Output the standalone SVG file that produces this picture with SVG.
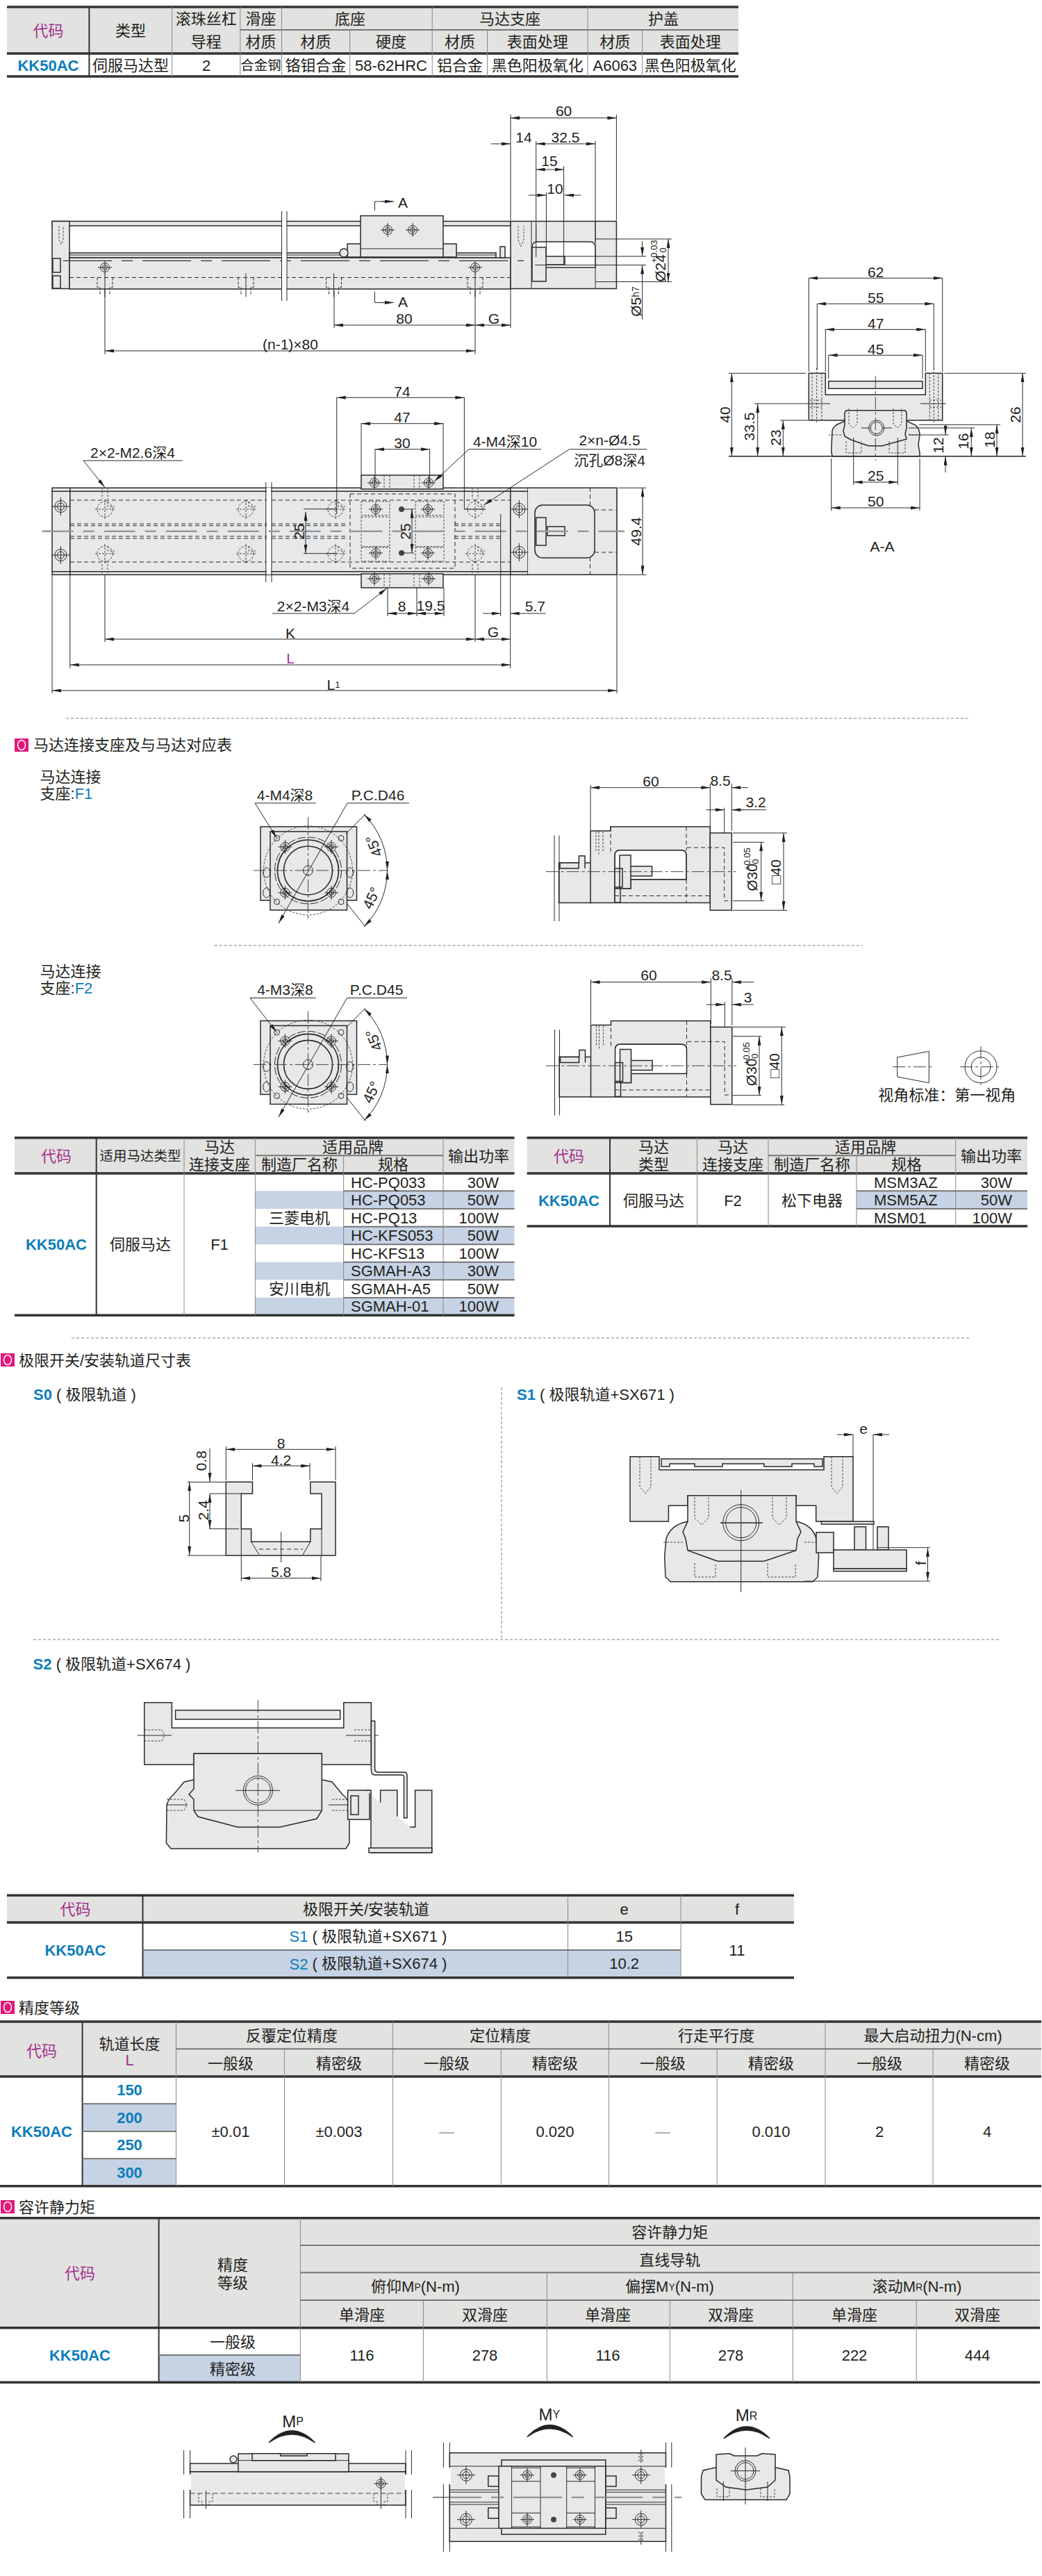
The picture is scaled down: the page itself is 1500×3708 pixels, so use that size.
<svg xmlns="http://www.w3.org/2000/svg" xmlns:xlink="http://www.w3.org/1999/xlink" width="1500" height="3708" viewBox="0 0 1500 3708">
<style>
text{font-family:"Liberation Sans","Noto Sans CJK SC",sans-serif;font-size:21px;fill:#231f20;text-anchor:middle;dominant-baseline:central}
.c{font-size:22px}.s{font-size:19.5px}.lf{text-anchor:start}.rt{text-anchor:end}
.k{font-weight:bold;fill:#0c7dba;font-size:22px}.b{fill:#0c7dba}.p{fill:#a3308f;font-size:22px}
.st{font-size:13px}
.l,.d,.e,.m,.n,.o,.h{fill:none;stroke:#2a2a2a;stroke-width:1}
.m{marker-start:url(#a);marker-end:url(#a)}
.e{marker-end:url(#a)}
.o{stroke-width:1.6}
.n{stroke-dasharray:6 4}
.h{stroke-dasharray:3 2;stroke:#444}
.cl{fill:none;stroke:#444;stroke-width:1;stroke-dasharray:18 4 4 4}
.gl{fill:none;stroke:#999;stroke-width:2.5;stroke-dasharray:45 14 16 14}
.f{fill:#e7e8ea;stroke:#2a2a2a;stroke-width:1.5}
.w{fill:#fff;stroke:#2a2a2a;stroke-width:1.5}
.hb{fill:#e2e2e0}.bb{fill:#c6d3e5}
.tk{stroke:#333;stroke-width:3.5;fill:none}
.tn{stroke:#888;stroke-width:1;fill:none}
.md{stroke:#777;stroke-width:2;fill:none}
.sp{stroke:#333;stroke-width:2;fill:none}
.dl{stroke:#aaa;stroke-width:1.5;stroke-dasharray:4 3;fill:none}
</style>
<defs>
<marker id="a" markerUnits="userSpaceOnUse" orient="auto-start-reverse" refX="13" refY="2.5" markerWidth="13" markerHeight="5"><path d="M0 0L13 2.5L0 5z" fill="#222"/></marker>
<g id="ic"><rect width="20" height="19" fill="#e2187a"/><ellipse cx="10" cy="9.5" rx="5.5" ry="7" fill="none" stroke="#fff" stroke-width="1.5"/></g>
<g id="bh"><circle r="8.5" class="l"/><circle r="5" class="l"/><path class="l" d="M-13 0H13M0-13V13"/></g>
<g id="sh"><circle r="6.5" class="l"/><circle r="3.5" class="l"/><path class="l" d="M-10 0H10M0-10V10"/></g>
<g id="dh"><circle r="11" class="h"/><path class="h" d="M-14 0H14M0-14V14M4-11V-4H14"/></g>
<g id="ts"><path class="l" stroke-dasharray="4 2" d="M-11 0V14H-7V24M11 0V14H7V24"/><path class="l" d="M0-6V28"/></g>
<g id="fv">
<rect class="f" x="375" y="1190" width="138.500" height="106"/>
<rect class="f" x="389" y="1197" width="110.500" height="113"/>
<circle cx="443.500" cy="1253" r="64" class="h"/>
<circle cx="443.500" cy="1253" r="48" class="l" stroke-dasharray="12 3"/>
<circle cx="443.500" cy="1253" r="44" class="o"/>
<circle cx="443.500" cy="1253" r="35" class="o"/>
<circle cx="443.500" cy="1253" r="7" class="l"/>
<use href="#sh" x="410.400" y="1219"/><use href="#sh" x="477" y="1219"/><use href="#sh" x="410.400" y="1285"/><use href="#sh" x="477" y="1285"/>
<g class="l"><circle cx="398.500" cy="1206.500" r="4"/><circle cx="491" cy="1206.500" r="4"/><circle cx="398.500" cy="1298" r="4"/><circle cx="491" cy="1298" r="4"/><ellipse cx="383.700" cy="1256" rx="5" ry="7"/><ellipse cx="503.700" cy="1256" rx="5" ry="7"/><ellipse cx="383.700" cy="1285" rx="5" ry="7"/><ellipse cx="503.700" cy="1285" rx="5" ry="7"/></g>
<path class="cl" d="M365 1253H557.700M443.500 1176V1325"/>
<path class="m" d="M524.100 1172.400A114 114 0 0 1 557.500 1253"/>
<path class="m" d="M557.500 1253A114 114 0 0 1 524.100 1333.600"/>
<path class="l" d="M526 1172L498 1200M526 1334L499 1300"/>
</g>
<g id="fsv">
<rect class="f" x="804.600" y="1242" width="46" height="57.500"/>
<path class="f" d="M806 1250V1242H833V1250H806M833.400 1242V1232H842V1250"/>
<path class="f" d="M850 1299.500V1196H879V1190H1022.300V1299.500Z"/>
<path class="w" d="M885 1299.500V1231Q885 1223.700 893 1223.700H980Q988 1223.700 988 1231V1266H908V1279H885Z" stroke="none"/>
<path class="l" d="M885 1299.500V1231Q885 1223.700 893 1223.700H980Q988 1223.700 988 1231V1266H905"/>
<path class="f" d="M892 1231H908V1279H892ZM885 1250H896V1277H885ZM908 1247H938.600V1261H908Z"/>
<rect class="f" x="885" y="1279" width="8" height="20"/>
<rect class="f" x="1022.300" y="1199" width="31" height="111.300"/>
<path class="n" d="M879 1190V1230M988 1190V1225M989 1220H1042.700V1296.700H1053M885 1289.500H1022.300M988 1266V1299"/>
<path class="h" d="M858 1197V1227M862 1197V1230M868 1197V1227"/>
<path class="cl" d="M785.700 1254.700H1059.500"/>
<path class="l" d="M798 1202.600V1326M805 1202.600V1326"/>
</g>
</defs>

<g id="table-spec">
<rect class="hb" x="10" y="10" width="1053" height="67"/>
<path class="tk" d="M10 10H1063M10 77H1063M10 110H1063"/>
<path class="sp" d="M128.400 10V110"/>
<path class="tn" d="M247.600 10V110M345.800 10V110M405.500 10V110M503.700 43V110M622.200 10V110M701.500 43V110M846 10V110M924.600 43V110"/>
<path class="md" d="M345.800 43H1063" stroke-width="1.200"/>
<text class="p" x="69.500" y="44">代码</text><text class="c" x="188" y="44">类型</text><text class="c" x="296.700" y="27">滚珠丝杠</text><text class="c" x="296.700" y="60">导程</text>
<text class="c" x="375.600" y="27">滑座</text><text class="c" x="375.600" y="60">材质</text><text class="c" x="504" y="27">底座</text><text class="c" x="454.600" y="60">材质</text><text class="c" x="563" y="60">硬度</text>
<text class="c" x="734" y="27">马达支座</text><text class="c" x="661.900" y="60">材质</text><text class="c" x="773.800" y="60">表面处理</text>
<text class="c" x="955" y="27">护盖</text><text class="c" x="885.300" y="60">材质</text><text class="c" x="993.800" y="60">表面处理</text>
<text class="k" x="69.500" y="94">KK50AC</text><text class="c" x="188" y="94">伺服马达型</text><text class="c" x="297" y="94">2</text><text class="s" x="375.600" y="94">合金钢</text><text class="c" x="454.600" y="94">铬钼合金</text><text class="c" x="563" y="94">58-62HRC</text><text class="c" x="661.900" y="94">铝合金</text><text class="c" x="773.800" y="94">黑色阳极氧化</text><text class="c" x="885.300" y="94">A6063</text><text class="c" x="993.800" y="94">黑色阳极氧化</text>
</g>

<g id="side-view">
<rect class="f" x="75" y="318.500" width="660" height="6.500"/>
<rect class="f" x="75" y="318.500" width="25" height="97"/>
<rect class="f" x="100" y="364" width="614" height="7"/><path class="l" d="M100 367H714"/>
<rect class="f" x="100" y="371" width="635" height="45"/>
<path class="f" d="M735 415.600V318.500H887.400V415.600Z"/>
<path class="l" d="M765 318.500V415.600M857 318.500V415.600M771.700 324V348"/>
<path class="w" d="M766 385V356Q766 348 774 348H849Q857 348 857 356V385Z"/>
<path class="f" d="M766 356H786V405H766ZM786 369H813V381H786Z"/>
<rect class="f" x="76" y="372" width="11" height="20"/><rect class="f" x="76" y="397" width="11" height="18"/>
<rect class="f" x="500" y="351" width="157" height="19"/><circle class="f" cx="495" cy="364" r="6"/><rect class="f" x="720" y="355" width="7" height="16"/>
<rect class="f" x="519" y="310.600" width="119" height="59.400"/><path class="l" d="M519 358H638"/>
<use href="#sh" x="558" y="331"/><use href="#sh" x="594" y="331"/>
<use href="#sh" x="151" y="385"/><use href="#sh" x="684" y="385"/>
<use href="#ts" x="151" y="399.500"/><use href="#ts" x="354" y="399.500"/><use href="#ts" x="480.500" y="399.500"/><use href="#ts" x="684" y="399.500"/>
<path class="h" d="M85 325V345L88 352L91 345V325M746 325V345L750 355L754 345V325"/>
<path d="M91 375.300H754" fill="none" stroke="#333" stroke-width="1.300" stroke-dasharray="70 14 16 14"/>
<path class="n" d="M100 399.500H735"/>
<rect x="405.500" y="316" width="7.500" height="102" fill="#fff"/>
<path class="l" d="M405.500 304V433M413 304V433"/>
<path class="l" d="M539.500 303V290H556M539.500 420V435.600H556"/><path class="e" d="M550 290H567"/><path class="e" d="M550 435.600H567"/>
<text x="580" y="291">A</text><text x="580" y="434">A</text>
<path class="l" d="M735 165V317M887.400 165V317M771.700 203V370M857 203V348M811.600 239V381.500M786.400 277V370M857 344H967M857 405.600H967M813 369H930M770 381.500H930M481 418V472M684 418V510M735 416V472M151 416V510"/>
<path class="m" d="M735 169.800H887.400"/>
<path class="e" d="M707 207H735"/><path class="m" d="M771.700 207H857"/>
<path class="m" d="M771.700 244H811.600"/>
<path class="e" d="M761 281H786.400"/><path class="e" d="M836 281H813"/>
<path class="m" d="M962 344V405.600"/>
<path class="e" d="M924.600 347V369"/><path class="e" d="M924.600 460V381.500"/>
<path class="m" d="M481 468H684"/><path class="m" d="M684 468H735"/><path class="m" d="M151 505H684"/>
<text x="811.600" y="159">60</text><text x="754" y="197">14</text><text x="814" y="197">32.5</text><text x="791" y="231">15</text><text x="799" y="271">10</text>
<text x="582" y="458">80</text><text x="711" y="458">G</text><text x="418" y="495">(n-1)×80</text>
<text transform="rotate(-90 915 434)" x="915" y="434">Ø5<tspan font-size="14">h7</tspan></text>
<text transform="rotate(-90 950 386)" x="950" y="386">Ø24</text>
<text class="st" transform="rotate(-90 941 362)" x="941" y="362">+0.03</text><text class="st" transform="rotate(-90 954 360)" x="954" y="360">0</text>
</g>

<g id="plan-view">
<rect class="f" x="75" y="702.300" width="26" height="125"/>
<rect class="f" x="100.800" y="702.300" width="634" height="125"/>
<rect class="f" x="734.800" y="702.300" width="25.200" height="125"/>
<rect x="760" y="702.300" width="128" height="125" fill="#e7e8ea"/>
<path class="o" d="M760 702.300H888V827.300H760M75 707.300H760M75 822.700H760"/>
<rect class="f" x="520" y="684" width="118" height="20"/><rect class="f" x="520" y="826" width="118" height="20"/>
<path class="n" d="M504 711H655V818H504ZM101 720H735M101 809H735M101 754H500.600M101 756.700H500.600M101 772H500.600M101 775H500.600M654 754H721M654 756.700H721M654 772H721M654 775H721M849.500 702V827M856 734H888M856 795H888"/>
<path class="h" d="M520 721.700H561V741.700H520ZM520 744H561V786.700H520ZM520 788H561V808H520ZM598 721.700H639V741.700H598ZM598 744H639V786.700H598ZM598 788H639V808H598Z"/>
<path class="h" d="M147 702V718M155 702V718M680 702V718M688 702V718M147 812V827M155 812V827M680 812V827M688 812V827M553 684V704M561 684V704M596 684V704M604 684V704M553 826V846M561 826V846M596 826V846M604 826V846"/>
<use href="#dh" x="151" y="733"/><use href="#dh" x="354" y="733"/><use href="#dh" x="483" y="733"/><use href="#dh" x="684" y="733"/>
<use href="#dh" x="151" y="797"/><use href="#dh" x="354" y="797"/><use href="#dh" x="483" y="797"/><use href="#dh" x="684" y="797"/>
<use href="#bh" x="87.400" y="729"/><use href="#bh" x="87.400" y="799"/><use href="#bh" x="747.400" y="733"/><use href="#bh" x="747.400" y="795"/>
<use href="#sh" x="539" y="695"/><use href="#sh" x="617" y="695"/><use href="#sh" x="539" y="833"/><use href="#sh" x="617" y="833"/>
<use href="#sh" x="541" y="733"/><use href="#sh" x="616" y="733"/><use href="#sh" x="541" y="796"/><use href="#sh" x="616" y="796"/>
<g fill="#444"><circle cx="578" cy="733" r="4"/><circle cx="578" cy="796" r="4"/></g>
<rect class="w" x="770" y="727" width="86" height="76" rx="11" style="fill:#e7e8ea"/>
<rect class="f" x="771.700" y="745" width="14.300" height="40"/><rect class="f" x="788" y="758" width="25" height="13"/>
<rect x="384" y="702" width="6" height="125" fill="#fff"/>
<path class="l" d="M382.700 694V838M391 694V838"/>
<path class="gl" d="M60.600 764.700H899"/>
<path class="l" d="M484.700 572V740M668.400 572V733H699M520 609V684M638 609V684M540 646V695M618.600 646V695M437 732.700H485M437 796.700H485M578 733H596M578 796H596M890 702.300H930M890 827.300H930M558 846V887M600 846V887M639 846V887M720.700 740V887M734.700 827V962M684 827V924M151 827V924M100.800 827V962M75 827V998M888 827V998"/>
<path class="m" d="M484.700 572.300H668.400"/><path class="m" d="M520 609.700H638"/><path class="m" d="M540 646.700H618.600"/>
<path class="m" d="M440 736.700V796.700"/><path class="m" d="M593 732.700V796"/><path class="m" d="M925 702.300V827.300"/>
<path class="m" d="M558 883H600"/><path class="m" d="M600 883H639"/>
<path class="e" d="M695 883H720.700"/><path class="e" d="M749 883H734.700"/><path class="l" d="M749 883H785.700"/>
<path class="m" d="M151 920H684"/><path class="m" d="M684 920H735"/><path class="m" d="M100.800 957H735"/><path class="m" d="M75 994H888"/>
<path class="l" d="M120 663H263M675 646.700H779M819.500 646.700H931M392 883H510"/>
<path class="e" d="M120 663L151 701.700"/><path class="e" d="M675 646.700L625 693"/><path class="e" d="M819.500 646.700L696.400 727"/><path class="e" d="M510 883L557 846.700"/>
<text x="579" y="563">74</text><text x="579" y="600">47</text><text x="579" y="637">30</text>
<text x="727" y="635">4-M4深10</text><text x="877.500" y="633">2×n-Ø4.5</text><text x="877.500" y="662">沉孔Ø8深4</text>
<text x="191" y="651">2×2-M2.6深4</text><text x="451" y="872">2×2-M3深4</text>
<text transform="rotate(-90 430.500 765)" x="430.500" y="765">25</text><text transform="rotate(-90 583.500 765)" x="583.500" y="765">25</text><text transform="rotate(-90 915 765)" x="915" y="765">49.4</text>
<text x="578.500" y="872">8</text><text x="620" y="871">19.5</text><text x="770.400" y="872">5.7</text>
<text x="418" y="911">K</text><text x="710" y="909">G</text><text class="p" style="font-size:21px" x="418" y="947">L</text><text x="480" y="985">L<tspan font-size="13">1</tspan></text>
</g>

<g id="section-view">
<path class="f" d="M1164.300 537.300H1188.300V568.300H1332.300V537.300H1356.700V605H1164.300Z"/>
<rect class="f" x="1192.700" y="548.700" width="135.300" height="10.600"/>
<path class="h" d="M1169 537V605M1175.700 530V610M1183 537V605M1338.300 537V605M1344.300 530V610M1350.700 537V605M1166 576H1183M1166 586H1183M1338 576H1355M1338 586H1355"/>
<path class="l" d="M1156.700 581H1195M1325 581H1361.700"/>
<path class="f" d="M1196.700 650L1198 620Q1200 612 1212 608L1216 606H1305L1318 612Q1324 618 1324 626L1322 640L1324 652V656.700H1198Z"/>
<path class="f" d="M1218 590.700H1303L1305 594V616L1303 625L1305 632L1298 634L1270 641.700H1250L1225 633L1216 628L1214 620L1216 612V594Z"/>
<circle class="l" cx="1261.700" cy="616" r="11"/><circle class="l" cx="1261.700" cy="616" r="8.500"/>
<path class="l" d="M1240 616H1252M1271 616H1284"/>
<path class="h" d="M1222 588V610L1228 616L1234 610V588M1286 588V610L1292 616L1298 610V588M1218 635V652H1240V635M1280 635V652H1303V635M1193 626H1213M1308 626H1324"/>
<path class="l" d="M1228.700 630V698M1292.300 630V698"/>
<path d="M1049 656.700H1476.700" stroke="#222" stroke-width="1.600"/>
<path class="cl" d="M1260.300 541V663"/>
<path class="l" d="M1164.300 400V535M1356.700 400V535M1176.300 437V532M1344.300 437V532M1188.300 474V535M1332.300 474V535M1192.700 511V545M1328 511V545M1049 537.300H1160M1359.300 537.300H1476.700M1086 581H1156.700M1123 605H1163M1323 611.300H1440M1308 616H1403M1308 626H1365.700M1196.700 660V735M1324 660V735"/>
<path class="m" d="M1164.300 400.300H1356.700"/><path class="m" d="M1176.300 437.300H1344.300"/><path class="m" d="M1188.300 474.300H1332.300"/><path class="m" d="M1192.700 511.300H1328"/>
<path class="m" d="M1053.300 537.300V656.700"/><path class="m" d="M1090.700 581V656.700"/><path class="m" d="M1127.300 605V656.700"/>
<path class="m" d="M1472 537.300V656.700"/><path class="m" d="M1435 611.300V656.700"/><path class="m" d="M1398.300 616V656.700"/>
<path class="e" d="M1361 611V626"/><path class="e" d="M1361 680V656.700"/>
<path class="m" d="M1228.700 694H1292.300"/><path class="m" d="M1196.700 731H1324"/>
<text x="1260.700" y="391">62</text><text x="1260.700" y="428">55</text><text x="1260.700" y="465">47</text><text x="1260.700" y="502">45</text><text x="1260.700" y="684">25</text><text x="1260.700" y="721">50</text><text x="1270" y="786">A-A</text>
<text transform="rotate(-90 1043.300 597)" x="1043.300" y="597">40</text><text transform="rotate(-90 1078.300 614)" x="1078.300" y="614">33.5</text><text transform="rotate(-90 1116.700 630)" x="1116.700" y="630">23</text><text transform="rotate(-90 1461.700 597)" x="1461.700" y="597">26</text><text transform="rotate(-90 1424 633)" x="1424" y="633">18</text><text transform="rotate(-90 1386.700 635)" x="1386.700" y="635">16</text><text transform="rotate(-90 1350.700 641)" x="1350.700" y="641">12</text>
</g>

<path class="dl" d="M95 1034H1396"/>

<g id="motor-section">
<use href="#ic" x="21" y="1063"/><text class="c lf" x="48" y="1072">马达连接支座及与马达对应表</text>
<text class="c lf" x="57.500" y="1118">马达连接</text><text class="c lf" x="57.500" y="1142">支座:<tspan class="b">F1</tspan></text>
<text class="c lf" x="57.500" y="1398">马达连接</text><text class="c lf" x="57.500" y="1422">支座:<tspan class="b">F2</tspan></text>
<use href="#fv"/><use href="#fv" y="279.400"/>
<use href="#fsv"/><use href="#fsv" x="0.500" y="279.400"/>
<path class="dl" d="M308.700 1361H1241.700"/>
<path class="l" d="M367 1156H454.600M500 1156H589M360 1436.500H454.600M499.500 1436.500H586"/>
<path class="e" d="M367 1156L398.500 1206.500"/><path class="e" d="M500 1156L401 1329"/>
<path class="e" d="M360 1436.500L398.500 1486"/><path class="e" d="M499.500 1436.500L401 1608"/>
<text x="410" y="1144">4-M4深8</text><text x="544" y="1144">P.C.D46</text><text x="410.400" y="1424.600">4-M3深8</text><text x="542" y="1424.600">P.C.D45</text>
<text transform="rotate(-112 538 1218)" x="538" y="1218">45°</text><text transform="rotate(-65 534.500 1292.600)" x="534.500" y="1292.600">45°</text>
<text transform="rotate(-112 538 1497.400)" x="538" y="1497.400">45°</text><text transform="rotate(-65 534.500 1572)" x="534.500" y="1572">45°</text>
<path class="l" d="M850 1130V1195M1022.300 1128V1195M1053.300 1128V1196M1042.700 1162.700V1199M1055 1199H1133M1055 1212.300H1100M1055 1296.700H1100M1055 1310.300H1133"/>
<path class="m" d="M850 1133.700H1022.300"/><path class="e" d="M1077 1133.700H1053.300"/><path class="e" d="M1016 1165.700H1042.700"/><path class="e" d="M1070 1165.700H1053.300"/><path class="l" d="M1053.300 1165.700H1103"/>
<path class="m" d="M1095.700 1212.300V1296.700"/><path class="m" d="M1128 1199V1310.300"/>
<text x="937" y="1124">60</text><text x="1037" y="1123">8.5</text><text x="1088" y="1154">3.2</text>
<text transform="rotate(-90 1082.700 1263)" x="1082.700" y="1263">Ø30</text><text class="st" transform="rotate(-90 1076 1236.700)" x="1076" y="1236.700">+0.05</text><text class="st" transform="rotate(-90 1087 1240)" x="1087" y="1240">0</text>
<text transform="rotate(-90 1116.700 1255)" x="1116.700" y="1255">□40</text>
<path class="l" d="M850.500 1410V1474M1023.300 1408V1474M1053.800 1408V1476M1043.300 1442V1478M1055 1478.300H1131M1055 1491.700H1096M1055 1576.700H1096M1055 1590.300H1129"/>
<path class="m" d="M850.500 1413.700H1023.300"/><path class="e" d="M1085 1413.700H1053.800"/><path class="e" d="M1017 1446H1043.300"/><path class="e" d="M1085 1446H1053.800"/>
<path class="m" d="M1093 1491.700V1576.700"/><path class="m" d="M1125.300 1478.300V1590.300"/>
<text x="934" y="1403.600">60</text><text x="1039" y="1403">8.5</text><text x="1076.700" y="1435">3</text>
<text transform="rotate(-90 1081.700 1543.300)" x="1081.700" y="1543.300">Ø30</text><text class="st" transform="rotate(-90 1075 1516.700)" x="1075" y="1516.700">+0.05</text><text class="st" transform="rotate(-90 1086 1520)" x="1086" y="1520">0</text>
<text transform="rotate(-90 1114.300 1534)" x="1114.300" y="1534">□40</text>
</g>

<g id="projection-symbol">
<path class="l" d="M1291.700 1522L1337.300 1513.300V1558.700L1291.700 1550Z"/><path class="cl" d="M1285 1535.700H1344"/>
<circle class="l" cx="1412" cy="1535.700" r="23"/><circle class="l" cx="1412" cy="1535.700" r="14"/>
<path class="cl" d="M1382 1535.700H1442M1412 1506V1565"/>
<text class="c" x="1363.300" y="1576.700">视角标准：第一视角</text>
</g>

<g id="table-f1">
<rect class="hb" x="21" y="1637.700" width="719.500" height="51.300"/>
<rect class="bb" x="367.400" y="1714.300" width="373.100" height="25.700"/><rect class="bb" x="367.400" y="1765.700" width="373.100" height="25.600"/><rect class="bb" x="367.400" y="1816.700" width="373.100" height="25.600"/><rect class="bb" x="367.400" y="1868" width="373.100" height="25.300"/>
<path class="tk" d="M21 1637.700H740.500M21 1689H740.500M21 1893.300H740.500"/>
<path class="sp" d="M138.700 1637.700V1893.300"/>
<path class="tn" d="M265 1637.700V1893.300M367.400 1637.700V1893.300M494.600 1663.300V1893.300M638 1637.700V1893.300"/>
<path class="md" d="M367.400 1663.300H638M494.600 1714.300H740.500M494.600 1740H740.500M494.600 1765.700H740.500M494.600 1791.300H740.500M494.600 1816.700H740.500M494.600 1842.300H740.500M494.600 1868H740.500" stroke-width="1.200"/>
<text class="p" x="81" y="1664">代码</text><text class="s" x="202" y="1664">适用马达类型</text><text class="c" x="316" y="1651">马达</text><text class="c" x="316" y="1676">连接支座</text><text class="c" x="508" y="1651">适用品牌</text><text class="c" x="431" y="1676">制造厂名称</text><text class="c" x="566" y="1676">规格</text><text class="c" x="689" y="1664">输出功率</text>
<text class="k" x="81" y="1791">KK50AC</text><text class="c" x="202" y="1791">伺服马达</text><text class="c" x="316" y="1791">F1</text><text class="c" x="431" y="1753">三菱电机</text><text class="c" x="431" y="1855">安川电机</text>
<g class="c"><text class="c lf" x="505" y="1702">HC-PQ033</text><text class="c lf" x="505" y="1727">HC-PQ053</text><text class="c lf" x="505" y="1753">HC-PQ13</text><text class="c lf" x="505" y="1778.500">HC-KFS053</text><text class="c lf" x="505" y="1804">HC-KFS13</text><text class="c lf" x="505" y="1829.500">SGMAH-A3</text><text class="c lf" x="505" y="1855">SGMAH-A5</text><text class="c lf" x="505" y="1880.500">SGMAH-01</text>
<text class="c rt" x="718" y="1702">30W</text><text class="c rt" x="718" y="1727">50W</text><text class="c rt" x="718" y="1753">100W</text><text class="c rt" x="718" y="1778.500">50W</text><text class="c rt" x="718" y="1804">100W</text><text class="c rt" x="718" y="1829.500">30W</text><text class="c rt" x="718" y="1855">50W</text><text class="c rt" x="718" y="1880.500">100W</text></g>
</g>

<g id="table-f2">
<rect class="hb" x="758.600" y="1637.700" width="720.400" height="51.300"/>
<rect class="bb" x="1233" y="1714.300" width="246" height="25.700"/>
<path class="tk" d="M758.600 1637.700H1479M758.600 1689H1479M758.600 1765H1479"/>
<path class="sp" d="M878 1637.700V1765"/>
<path class="tn" d="M1003.500 1637.700V1765M1106 1637.700V1765M1233 1663.300V1765M1375.700 1637.700V1765"/>
<path class="md" d="M1106 1663.300H1375.700M1233 1714.300H1479M1233 1740H1479" stroke-width="1.200"/>
<text class="p" x="819" y="1664">代码</text><text class="c" x="941" y="1651">马达</text><text class="c" x="941" y="1676">类型</text><text class="c" x="1055" y="1651">马达</text><text class="c" x="1055" y="1676">连接支座</text><text class="c" x="1246" y="1651">适用品牌</text><text class="c" x="1169" y="1676">制造厂名称</text><text class="c" x="1305" y="1676">规格</text><text class="c" x="1427" y="1664">输出功率</text>
<text class="k" x="819" y="1728">KK50AC</text><text class="c" x="941" y="1728">伺服马达</text><text class="c" x="1055" y="1728">F2</text><text class="c" x="1169" y="1728">松下电器</text>
<text class="c lf" x="1258" y="1702">MSM3AZ</text><text class="c lf" x="1258" y="1727">MSM5AZ</text><text class="c lf" x="1258" y="1753">MSM01</text>
<text class="c rt" x="1457" y="1702">30W</text><text class="c rt" x="1457" y="1727">50W</text><text class="c rt" x="1457" y="1753">100W</text>
</g>

<path class="dl" d="M103 1926H1397"/>

<g id="limit-section">
<use href="#ic" x="1" y="1948"/><text class="c lf" x="27" y="1958">极限开关/安装轨道尺寸表</text>
<text class="c lf" x="48" y="2007"><tspan class="k">S0</tspan> ( 极限轨道 )</text>
<text class="c lf" x="744" y="2007"><tspan class="k">S1</tspan> ( 极限轨道+SX671 )</text>
<path class="dl" d="M722 1997V2358M48 2360H1440"/>
</g>

<g id="s0-profile">
<path class="f" d="M325.300 2133.300H363.500V2150H347.300V2200.700H361.600V2219.300H446.800V2200.700H463V2150H446.800V2133.300H483V2239H325.300Z"/>
<path class="l" d="M361.600 2219.300L373 2238M446.800 2219.300L436 2238M347.300 2200.700V2239M463 2200.700V2239"/><path class="n" d="M373 2230H436"/>
<path class="l" d="M404.700 2205V2249"/>
<path class="l" d="M325.300 2082V2131M483 2082V2131M363.500 2106V2131M446 2106V2131M270 2133.300H325M302 2150H347M301 2200.700H344M270 2239H325M347.300 2240V2276M462 2240V2276"/>
<path class="m" d="M325.300 2086.300H483"/><path class="m" d="M363.500 2110H446"/>
<path class="e" d="M302 2085V2133"/><path class="m" d="M302 2150V2200.700"/><path class="m" d="M272.700 2133.300V2239"/><path class="m" d="M347.300 2271.700H462"/>
<text x="404.700" y="2077">8</text><text x="404.700" y="2101">4.2</text><text x="404.700" y="2262">5.8</text>
<text transform="rotate(-90 290 2102.700)" x="290" y="2102.700">0.8</text><text transform="rotate(-90 292 2174)" x="292" y="2174">2.4</text><text transform="rotate(-90 265 2185.700)" x="265" y="2185.700">5</text>
</g>

<g id="s1-view">
<path class="f" d="M907 2096.700H949V2115.700H1186V2096.700H1228V2190H1174.700V2167.300H1146V2152.700H990V2167.300H962.400V2190H907Z"/>
<path class="f" d="M952 2100H1184V2111H1172V2107H1140V2111H1100V2107H1040V2111H1000V2107H964V2111H952Z"/>
<path class="f" d="M956.700 2240L959 2215Q965 2195 990 2190H1146Q1170 2195 1175 2215L1178.600 2240L1177 2270L1170 2276.700H965L958 2270Z"/>
<path class="f" d="M990 2152.700H1146V2190L1153 2205L1148 2215L1146 2231.700L1100 2247.300H1033L990 2231.700L987 2215L983 2205L990 2190Z"/>
<path class="l" d="M990 2231.700H1146"/>
<circle class="l" cx="1066.700" cy="2191.700" r="26"/><circle class="l" cx="1066.700" cy="2191.700" r="22"/><path class="o" d="M1037 2192H1098"/>
<path class="l" d="M1066.700 2145V2291.700"/>
<path class="h" d="M921 2097V2140L929 2150L937 2140V2097M1197 2097V2140L1205 2150L1213 2140V2097M1000 2155V2185L1010 2195L1020 2185V2155M1112 2155V2185L1122 2195L1132 2185V2155M1000 2250V2270H1030V2250M1105 2250V2270H1145V2250M955 2220H985M1158 2220H1175"/>
<path class="f" d="M1182.400 2190H1258V2194H1182.400Z"/>
<rect class="f" x="1175" y="2205.700" width="25" height="29.300"/>
<path class="f" d="M1230 2197.700H1246.500V2231H1230ZM1263 2197.700H1279V2231H1263Z"/>
<rect class="f" x="1200" y="2231" width="105" height="27"/>
<rect class="f" x="1200" y="2258" width="105" height="3.700"/>
<path class="l" d="M1257 2194V2231M1228 2065V2096M1257 2065V2190M1263 2227.700H1339M1157.600 2276H1339"/>
<path class="e" d="M1205 2065H1228"/><path class="e" d="M1280 2065H1257"/>
<path class="m" d="M1335.500 2227.700V2276"/>
<text x="1243" y="2056.700">e</text><text transform="rotate(-90 1325 2250)" x="1325" y="2250">f</text>
</g>

<g id="s2-view">
<text class="c lf" x="47.600" y="2395"><tspan class="k">S2</tspan> ( 极限轨道+SX674 )</text>
<path class="f" d="M207.800 2450.700H247.400V2487.300H494.800V2450.700H534.400V2540H463.300V2524.300H279V2540H207.800Z"/>
<path class="f" d="M252.600 2461.700H489.700V2474.700H252.600Z"/>
<path class="f" d="M239.400 2653L240 2600Q241 2590 250 2583L265 2565L279 2561.700H463.300L478 2565L493 2583Q502 2590 502.900 2600V2653L498 2661H246Z"/>
<path class="f" d="M279 2524.300H463.300V2606L456 2618L403 2630H342L285 2615L279 2606V2590L272 2583L279 2575Z"/>
<path class="l" d="M279 2606H463.300"/>
<circle class="l" cx="371.400" cy="2577.300" r="21"/><circle class="l" cx="371.400" cy="2577.300" r="18"/>
<path class="l" d="M339 2577.300H403"/><path class="cl" d="M371.400 2447V2666.700"/>
<path class="l" d="M198 2498H247M498 2498H545M239 2598H270M473 2598H503"/>
<path class="h" d="M208 2490H233L237 2498L233 2506H208M510 2490H534M510 2506H534M240 2590H265L269 2598L265 2606H240M478 2590H502M478 2606H502"/>
<path class="f" d="M534.400 2477.300H539.600V2546Q539.600 2551 545 2551H582Q586 2551 586 2556V2616.700H581.500V2558Q581.500 2555 578 2555H540Q534.400 2555 534.400 2548Z"/>
<rect class="f" x="500.600" y="2577" width="31.400" height="42"/><path class="f" d="M505 2585H516V2612H505Z"/>
<path class="f" d="M547.600 2577H571.800V2630H597.600V2577H621.700V2656.700H547.600Z"/>
<path class="f" d="M527 2577H534V2666.700H621.700V2656.700"/><rect class="f" x="531" y="2660" width="90.700" height="6.700"/>
</g>

<g id="table-limit">
<rect class="hb" x="10" y="2728.300" width="1133" height="39"/>
<rect class="bb" x="205.500" y="2807" width="774.500" height="39.700"/>
<path class="tk" d="M10 2728.300H1143M10 2767.300H1143M10 2846.700H1143"/>
<path class="sp" d="M205.500 2728.300V2846.700"/>
<path class="tn" d="M817.500 2728.300V2846.700M980 2728.300V2846.700"/><path class="md" d="M205.500 2807H980" stroke-width="1.200"/>
<text class="p" x="108.500" y="2748">代码</text><text class="c" x="527" y="2748">极限开关/安装轨道</text><text class="c" x="898.700" y="2748">e</text><text class="c" x="1061" y="2748">f</text>
<text class="k" x="108.500" y="2807.500">KK50AC</text>
<text class="c" x="530" y="2787"><tspan class="b">S1</tspan> ( 极限轨道+SX671 )</text><text class="c" x="530" y="2826.700"><tspan class="b">S2</tspan> ( 极限轨道+SX674 )</text>
<text class="c" x="898.700" y="2787">15</text><text class="c" x="898.700" y="2826.700">10.2</text><text class="c" x="1061" y="2807">11</text>
</g>

<g id="table-accuracy">
<use href="#ic" x="1" y="2880"/><text class="c lf" x="27" y="2890">精度等级</text>
<rect class="hb" x="0" y="2910" width="1499" height="79"/>
<rect class="bb" x="118.600" y="3028.300" width="134.900" height="39.700"/><rect class="bb" x="118.600" y="3107.300" width="134.900" height="39.400"/>
<path class="tk" d="M0 2910H1499M0 2989H1499M0 3146.700H1499"/>
<path class="sp" d="M118.600 2910V3146.700"/>
<path class="tn" d="M253.500 2910V3146.700M409.500 2949V3146.700M565.400 2910V3146.700M721.300 2949V3146.700M876.300 2910V3146.700M1032.200 2949V3146.700M1188 2910V3146.700M1343 2949V3146.700"/>
<path class="md" d="M253.500 2949.300H1499M118.600 3028.300H253.500M118.600 3068H253.500M118.600 3107.300H253.500" stroke-width="1.500"/>
<text class="p" x="60" y="2952">代码</text><text class="c" x="186.500" y="2942.700">轨道长度</text><text class="p" x="186.500" y="2965">L</text>
<text class="c" x="420" y="2930">反覆定位精度</text><text class="c" x="720" y="2930">定位精度</text><text class="c" x="1031" y="2930">行走平行度</text><text class="c" x="1343" y="2930">最大启动扭力(N-cm)</text>
<text class="c" x="332" y="2970">一般级</text><text class="c" x="488" y="2970">精密级</text><text class="c" x="643" y="2970">一般级</text><text class="c" x="799" y="2970">精密级</text><text class="c" x="954" y="2970">一般级</text><text class="c" x="1110" y="2970">精密级</text><text class="c" x="1266" y="2970">一般级</text><text class="c" x="1421" y="2970">精密级</text>
<text class="k" x="60" y="3068">KK50AC</text>
<text class="k" x="186.500" y="3008">150</text><text class="k" x="186.500" y="3048">200</text><text class="k" x="186.500" y="3087.700">250</text><text class="k" x="186.500" y="3127">300</text>
<text class="c" x="332" y="3068">±0.01</text><text class="c" x="488" y="3068">±0.003</text><text class="c" x="643" y="3068" style="fill:#999">—</text><text class="c" x="799" y="3068">0.020</text><text class="c" x="954" y="3068" style="fill:#999">—</text><text class="c" x="1110" y="3068">0.010</text><text class="c" x="1266" y="3068">2</text><text class="c" x="1421" y="3068">4</text>
</g>

<g id="table-moment">
<use href="#ic" x="1" y="3167"/><text class="c lf" x="27" y="3177.700">容许静力矩</text>
<rect class="hb" x="0" y="3192.700" width="1497" height="158"/>
<rect class="bb" x="228.600" y="3390" width="203.800" height="39.300"/>
<path class="tk" d="M0 3192.700H1497M0 3350.700H1497M0 3429.300H1497"/>
<path class="sp" d="M228.600 3192.700V3429.300"/>
<path class="tn" d="M432.400 3192.700V3429.300M609.400 3311V3429.300M787.300 3271.300V3429.300M964.300 3311V3429.300M1141.300 3271.300V3429.300M1319.200 3311V3429.300"/>
<path class="md" d="M432.400 3232H1497M432.400 3271.300H1497M432.400 3311H1497M228.600 3390H432.400" stroke-width="1.500"/>
<text class="p" x="115" y="3272">代码</text><text class="c" x="335" y="3260">精度</text><text class="c" x="335" y="3286.700">等级</text>
<text class="c" x="964.300" y="3213">容许静力矩</text><text class="c" x="964.300" y="3253">直线导轨</text>
<text class="c" x="598" y="3291.700">俯仰M<tspan font-size="14">P</tspan>(N-m)</text><text class="c" x="964" y="3291.700">偏摆M<tspan font-size="14">Y</tspan>(N-m)</text><text class="c" x="1320" y="3291.700">滚动M<tspan font-size="14">R</tspan>(N-m)</text>
<text class="c" x="521" y="3332">单滑座</text><text class="c" x="698" y="3332">双滑座</text><text class="c" x="875" y="3332">单滑座</text><text class="c" x="1052" y="3332">双滑座</text><text class="c" x="1230" y="3332">单滑座</text><text class="c" x="1407" y="3332">双滑座</text>
<text class="k" x="115" y="3390">KK50AC</text><text class="c" x="335" y="3371.700">一般级</text><text class="c" x="335" y="3410">精密级</text>
<text class="c" x="521" y="3390">116</text><text class="c" x="698" y="3390">278</text><text class="c" x="875" y="3390">116</text><text class="c" x="1052" y="3390">278</text><text class="c" x="1230" y="3390">222</text><text class="c" x="1407" y="3390">444</text>
</g>

<g id="moment-mp">
<text style="font-size:24px" x="421.500" y="3485">M<tspan font-size="16">P</tspan></text>
<path d="M387 3516Q420 3482 453.400 3516Q420 3492 387 3516Z" fill="#222" stroke="#222" stroke-width="1.500"/>
<rect class="f" x="273.600" y="3546" width="310.400" height="12"/><rect class="f" x="273.600" y="3558" width="310.400" height="48"/>
<circle class="f" cx="336" cy="3540" r="5"/>
<rect class="f" x="343" y="3532" width="159" height="26"/><path class="l" d="M343 3541.700H502"/>
<path class="f" d="M363 3531.700H403.700V3535H442V3531.700H483V3541.700H363Z"/>
<use href="#sh" x="548.400" y="3575"/>
<path d="M273.600 3589H584" fill="none" stroke="#777" stroke-width="1.500" stroke-dasharray="7 4"/>
<path class="h" d="M286 3589V3601H291V3606M306 3589V3601H301V3606M538 3589V3601H543V3606M558 3589V3601H553V3606"/>
<path class="l" d="M296.500 3585V3611.700M548.400 3565V3611.700M264.600 3527V3625M273.600 3527V3625M584 3527V3625M592.400 3527V3625"/>
<rect x="263" y="3562" width="12" height="22" fill="#fff"/><rect x="583" y="3562" width="11" height="22" fill="#fff"/>
</g>

<g id="moment-my">
<text style="font-size:24px" x="790.800" y="3475">M<tspan font-size="16">Y</tspan></text>
<path d="M759 3507.700Q791 3474 824.600 3507.700Q791 3484 759 3507.700Z" fill="#222" stroke="#222" stroke-width="1.500"/>
<rect class="f" x="647.300" y="3530.700" width="311.200" height="127.600"/>
<path class="l" d="M647.300 3550H958.500M647.300 3639.300H958.500M647.300 3584H718M647.300 3587.300H718M647.300 3601.700H718M647.300 3605H718M871.800 3584H958.500M871.800 3587.300H958.500M871.800 3601.700H958.500M871.800 3605H958.500"/>
<rect class="f" x="702.800" y="3564" width="15.200" height="15"/><rect class="f" x="702.800" y="3610" width="15.200" height="15"/><rect class="f" x="871.800" y="3564" width="15.200" height="15"/><rect class="f" x="871.800" y="3610" width="15.200" height="15"/>
<rect class="f" x="722" y="3541" width="149.800" height="107"/><rect class="f" x="718" y="3550" width="153.800" height="89.300"/>
<path class="l" d="M736.600 3550V3639.300M778 3550V3639.300M815.700 3550V3639.300M856.500 3550V3639.300M736.600 3552.300H778M736.600 3571.700H778M815.700 3552.300H856.500M815.700 3571.700H856.500M736.600 3617.300H778M736.600 3637.300H778M815.700 3617.300H856.500M815.700 3637.300H856.500"/>
<use href="#bh" x="671" y="3562.700"/><use href="#bh" x="671" y="3626.700"/><use href="#bh" x="922.800" y="3562.700"/><use href="#bh" x="922.800" y="3626.700"/>
<use href="#sh" x="759" y="3562.700"/><use href="#sh" x="834.800" y="3562.700"/><use href="#sh" x="759" y="3626.700"/><use href="#sh" x="834.800" y="3626.700"/>
<g fill="#444"><circle cx="797" cy="3562.700" r="4"/><circle cx="797" cy="3626.700" r="4"/></g>
<path class="h" d="M920 3530V3545M925 3530V3545M920 3644V3658M925 3644V3658"/>
<path class="l" d="M922.800 3526V3545M922.800 3645V3663"/>
<path d="M623 3594.700H981" fill="none" stroke="#888" stroke-width="2" stroke-dasharray="70 14 18 14"/>
<path class="l" d="M638.400 3515.700V3673M647.300 3515.700V3673M958.500 3515.700V3673M966.800 3515.700V3673"/>
<rect x="636" y="3552" width="13" height="24" fill="#fff"/><rect x="957" y="3552" width="12" height="24" fill="#fff"/>
</g>

<g id="moment-mr">
<text style="font-size:24px" x="1074.600" y="3476.700">M<tspan font-size="16">R</tspan></text>
<path d="M1042 3510Q1074.600 3476 1108 3510Q1074.600 3486 1042 3510Z" fill="#222" stroke="#222" stroke-width="1.500"/>
<path class="f" d="M1009.500 3590V3565L1012 3556L1031 3551.700H1116L1135 3556L1137 3565V3590L1132 3598.300H1015Z"/>
<path class="f" d="M1031 3533L1050 3531.700L1057 3535H1090L1097 3531.700L1116 3533V3570L1105 3580L1074 3584L1045 3580L1031 3570Z"/>
<circle class="l" cx="1073" cy="3556.700" r="15"/><circle class="l" cx="1073" cy="3556.700" r="12"/>
<path class="l" d="M1073 3523V3605M1052 3556.700H1094M1041.400 3572V3600M1105 3572V3600"/>
<path class="h" d="M1032 3582V3594H1050V3582M1095 3582V3594H1115V3582"/>
</g>
</svg>
